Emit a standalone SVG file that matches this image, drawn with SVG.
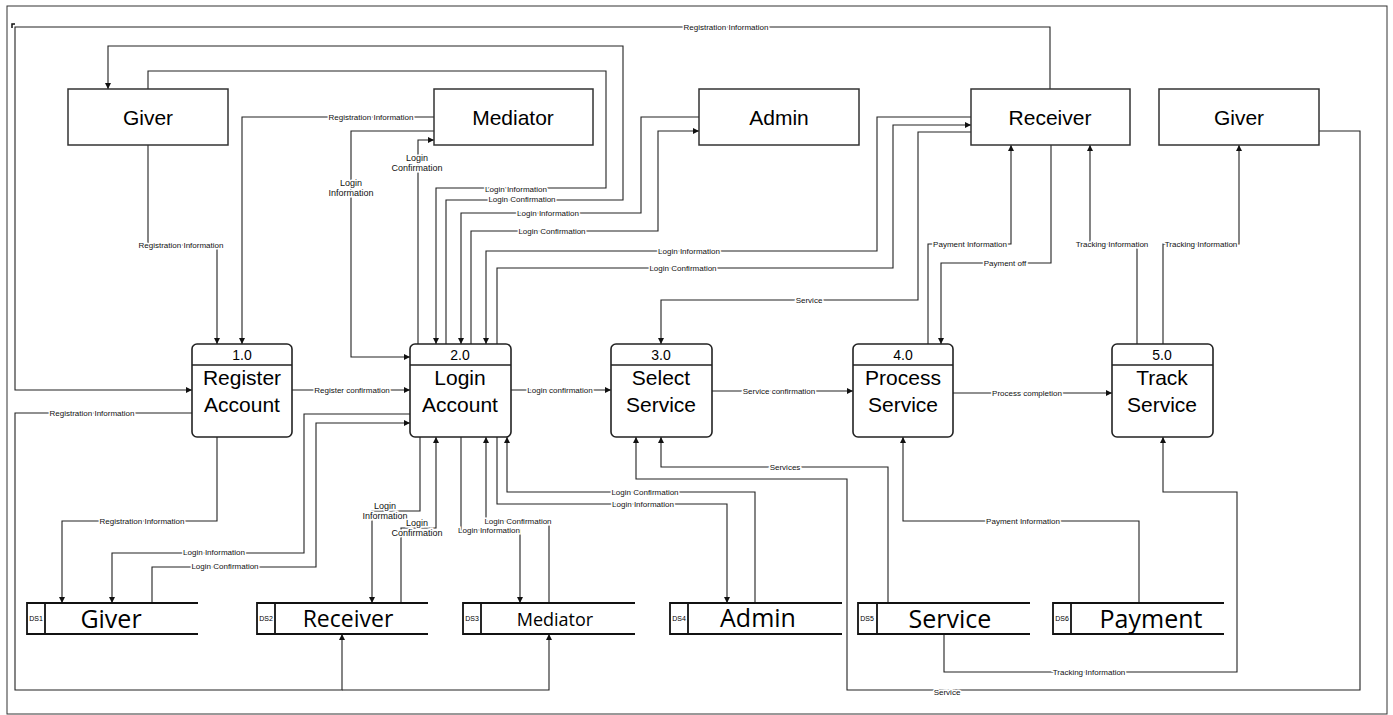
<svg xmlns="http://www.w3.org/2000/svg" width="1393" height="715" viewBox="0 0 1393 715">
<style>
.bg{fill:#fff}
.frame{fill:none;stroke:#333;stroke-width:1}
.ext{fill:#fff;stroke:#333;stroke-width:1.5}
.proc{fill:#fff;stroke:#222;stroke-width:1.6}
.ds{fill:none;stroke:#111;stroke-width:1.8}
.c{fill:none;stroke:#222;stroke-width:1.1}
.t{font-family:"Liberation Sans",Arial,sans-serif;fill:#000;text-anchor:middle}
.big{font-size:21px}
.num{font-size:14px}
.dst{font-family:"Open Sans","Noto Sans",sans-serif;fill:#000;text-anchor:middle;font-size:25px}
.dsid{font-family:"Liberation Sans",Arial,sans-serif;font-size:7px;fill:#000;text-anchor:middle}
.l{font-family:"Liberation Sans",Arial,sans-serif;font-size:8px;fill:#111;text-anchor:middle;stroke:#fff;stroke-width:3;paint-order:stroke}
.l9{font-size:9px}
</style>
<defs>
<marker id="a" markerWidth="6" markerHeight="6" refX="6" refY="3" orient="auto" markerUnits="userSpaceOnUse">
<path d="M0,0 L6,3 L0,6 z" fill="#111"/>
</marker>
</defs>
<rect class="bg" x="0" y="0" width="1393" height="715"/>
<rect class="frame" x="7" y="6" width="1380" height="708"/>
<path d="M12,28 V24 H15" fill="none" stroke="#111" stroke-width="1.5"/>

<g id="connectors" marker-end="url(#a)">
<path class="c" d="M148,145 V245 H217 V344"/>
<path class="c" d="M434,117 H242 V344"/>
<path class="c" d="M434,131 H351 V357 H410"/>
<path class="c" d="M418,344 V140 H434"/>
<path class="c" d="M148,89 V71 H606 V188 H436 V344"/>
<path class="c" d="M446,344 V200 H623 V46 H108 V89"/>
<path class="c" d="M699,117 H641 V213 H461 V344"/>
<path class="c" d="M471,344 V231 H658 V131 H699"/>
<path class="c" d="M971,117 H877 V251 H486 V344"/>
<path class="c" d="M497,344 V268 H893 V125 H971"/>
<path class="c" d="M971,132 H918 V300 H661 V344"/>
<path class="c" d="M1050,89 V27 H15 V390 H192"/>
<path class="c" d="M1051,145 V263 H941 V344"/>
<path class="c" d="M928,344 V244 H1011 V145"/>
<path class="c" d="M1137,344 V244 H1090 V145"/>
<path class="c" d="M1163,344 V244 H1239 V145"/>
<path class="c" d="M1319,131 H1360 V690 H847 V479 H636 V437"/>
<path class="c" d="M888,603 V467 H661 V437"/>
<path class="c" d="M292,390 H410"/>
<path class="c" d="M511,390 H611"/>
<path class="c" d="M712,391 H853"/>
<path class="c" d="M953,393 H1112"/>
<path class="c" d="M1139,603 V521 H903 V437"/>
<path class="c" d="M944,634 V672 H1237 V492 H1163 V437"/>
<path class="c" d="M192,413 H15 V690 H342 V634"/>
<path class="c" d="M342,690 H549 V634"/>
<path class="c" d="M217,437 V521 H62 V603"/>
<path class="c" d="M410,414 H304 V553 H112 V603"/>
<path class="c" d="M152,603 V567 H316 V423 H410"/>
<path class="c" d="M420,437 V511 H372 V603"/>
<path class="c" d="M401,603 V528 H436 V437"/>
<path class="c" d="M461,437 V530 H520 V603"/>
<path class="c" d="M549,603 V521 H486 V437"/>
<path class="c" d="M497,437 V504 H727 V603"/>
<path class="c" d="M755,603 V492 H507 V437"/>
</g>

<g id="labels">
<text class="l" x="181" y="248">Registration Information</text>
<text class="l" x="371" y="120">Registration Information</text>
<text class="l l9" x="351" y="186">Login</text>
<text class="l l9" x="351" y="196">Information</text>
<text class="l l9" x="417" y="161">Login</text>
<text class="l l9" x="417" y="171">Confirmation</text>
<text class="l" x="516" y="192">Login Information</text>
<text class="l" x="522" y="202">Login Confirmation</text>
<text class="l" x="548" y="216">Login Information</text>
<text class="l" x="552" y="234">Login Confirmation</text>
<text class="l" x="689" y="254">Login Information</text>
<text class="l" x="683" y="271">Login Confirmation</text>
<text class="l" x="809" y="303">Service</text>
<text class="l" x="970" y="247">Payment Information</text>
<text class="l" x="1005" y="266">Payment off</text>
<text class="l" x="1112" y="247">Tracking Information</text>
<text class="l" x="1201" y="247">Tracking Information</text>
<text class="l" x="726" y="30">Registration Information</text>
<text class="l" x="352" y="393">Register confirmation</text>
<text class="l" x="560" y="393">Login confirmation</text>
<text class="l" x="779" y="394">Service confirmation</text>
<text class="l" x="1027" y="396">Process completion</text>
<text class="l" x="92" y="416">Registration Information</text>
<text class="l" x="142" y="524">Registration Information</text>
<text class="l" x="214" y="555">Login Information</text>
<text class="l" x="225" y="569">Login Confirmation</text>
<text class="l l9" x="385" y="509">Login</text>
<text class="l l9" x="385" y="519">Information</text>
<text class="l l9" x="417" y="526">Login</text>
<text class="l l9" x="417" y="536">Confirmation</text>
<text class="l" x="489" y="533">Login Information</text>
<text class="l" x="518" y="524">Login Confirmation</text>
<text class="l" x="645" y="495">Login Confirmation</text>
<text class="l" x="643" y="507">Login Information</text>
<text class="l" x="785" y="470">Services</text>
<text class="l" x="1023" y="524">Payment Information</text>
<text class="l" x="1089" y="675">Tracking Information</text>
<text class="l" x="947" y="695">Service</text>
</g>

<g id="ext-giver1"><rect class="ext" x="68" y="89" width="160" height="56"/><text class="t big" x="148" y="125">Giver</text></g>
<g id="ext-mediator"><rect class="ext" x="434" y="89" width="159" height="56"/><text class="t big" x="513" y="125">Mediator</text></g>
<g id="ext-admin"><rect class="ext" x="699" y="89" width="160" height="56"/><text class="t big" x="779" y="125">Admin</text></g>
<g id="ext-receiver"><rect class="ext" x="971" y="89" width="159" height="56"/><text class="t big" x="1050" y="125">Receiver</text></g>
<g id="ext-giver2"><rect class="ext" x="1159" y="89" width="160" height="56"/><text class="t big" x="1239" y="125">Giver</text></g>

<g id="p1"><rect class="proc" x="192" y="344" width="100" height="93" rx="5"/><line class="proc" x1="192" y1="365" x2="292" y2="365"/><text class="t num" x="242" y="360">1.0</text><text class="t big" x="242" y="385">Register</text><text class="t big" x="242" y="412">Account</text></g>
<g id="p2"><rect class="proc" x="410" y="344" width="101" height="93" rx="5"/><line class="proc" x1="410" y1="365" x2="511" y2="365"/><text class="t num" x="460" y="360">2.0</text><text class="t big" x="460" y="385">Login</text><text class="t big" x="460" y="412">Account</text></g>
<g id="p3"><rect class="proc" x="611" y="344" width="101" height="93" rx="5"/><line class="proc" x1="611" y1="365" x2="712" y2="365"/><text class="t num" x="661" y="360">3.0</text><text class="t big" x="661" y="385">Select</text><text class="t big" x="661" y="412">Service</text></g>
<g id="p4"><rect class="proc" x="853" y="344" width="100" height="93" rx="5"/><line class="proc" x1="853" y1="365" x2="953" y2="365"/><text class="t num" x="903" y="360">4.0</text><text class="t big" x="903" y="385">Process</text><text class="t big" x="903" y="412">Service</text></g>
<g id="p5"><rect class="proc" x="1112" y="344" width="101" height="93" rx="5"/><line class="proc" x1="1112" y1="365" x2="1213" y2="365"/><text class="t num" x="1162" y="360">5.0</text><text class="t big" x="1162" y="385">Track</text><text class="t big" x="1162" y="412">Service</text></g>

<g id="ds1"><path class="ds" d="M198,603 H27 V634 H198 M45,603 V634"/><text class="dsid" x="36" y="621">DS1</text><text class="dst" x="111" y="628">Giver</text></g>
<g id="ds2"><path class="ds" d="M428,603 H257 V634 H428 M275,603 V634"/><text class="dsid" x="266" y="621">DS2</text><text class="dst" x="348" y="627" style="font-size:23px">Receiver</text></g>
<g id="ds3"><path class="ds" d="M635,603 H463 V634 H635 M481,603 V634"/><text class="dsid" x="472" y="621">DS3</text><text class="dst" x="555" y="626" style="font-size:18px">Mediator</text></g>
<g id="ds4"><path class="ds" d="M842,603 H670 V634 H842 M688,603 V634"/><text class="dsid" x="679" y="621">DS4</text><text class="dst" x="758" y="627">Admin</text></g>
<g id="ds5"><path class="ds" d="M1030,603 H858 V634 H1030 M877,603 V634"/><text class="dsid" x="867" y="621">DS5</text><text class="dst" x="950" y="628">Service</text></g>
<g id="ds6"><path class="ds" d="M1224,603 H1053 V634 H1224 M1071,603 V634"/><text class="dsid" x="1062" y="621">DS6</text><text class="dst" x="1151" y="628">Payment</text></g>
</svg>
